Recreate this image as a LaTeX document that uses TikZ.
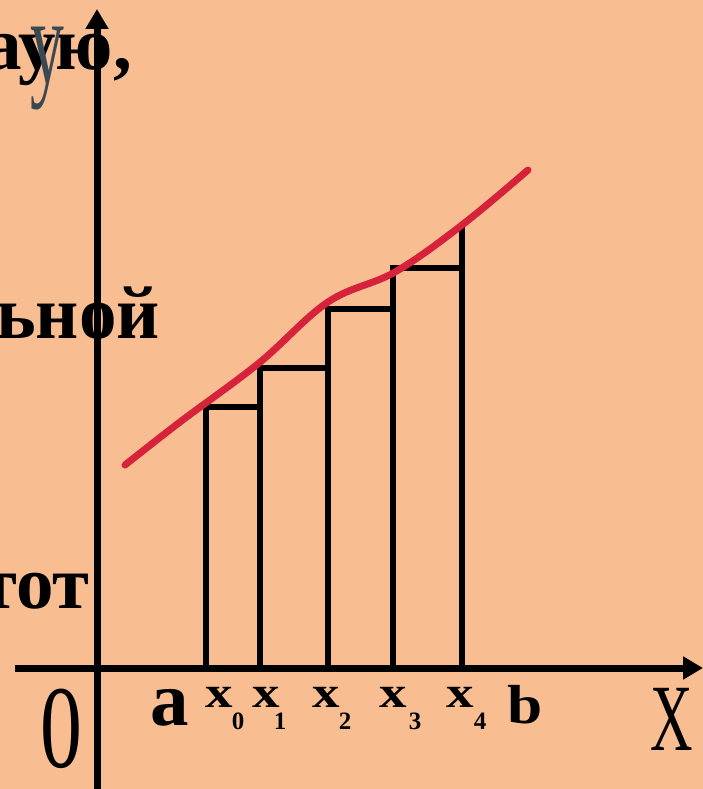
\documentclass[tikz,border=0pt]{standalone}
\usepackage{fontspec}
\setmainfont{Liberation Serif}
\usetikzlibrary{arrows.meta}
\definecolor{peach}{RGB}{248,190,146}
\definecolor{curvered}{RGB}{214,34,58}
\definecolor{ygrey}{RGB}{58,72,82}
\tikzset{
  axis/.style={line width=7pt,-{Triangle[length=20pt,width=22pt]}},
  bar/.style={line width=6.5pt,line join=miter},
  frag/.style={inner sep=0pt,font=\fontsize{75}{75}\selectfont\bfseries},
  xlab/.style={inner sep=0pt,font=\fontsize{44}{44}\selectfont\bfseries,xscale=1.25},
  sublab/.style={inner sep=0pt,font=\fontsize{25}{25}\selectfont\bfseries},
}
\begin{document}
\begin{tikzpicture}[x=1pt,y=-1pt]
\fill[peach] (0,0) rectangle (703,789);
\useasboundingbox (0,0) rectangle (703,789);
% text fragments on the left
\node[frag,anchor=base east] (f1) at (132,70) {аую,};
\node[frag,anchor=base east] (f2) at (160,338) {ьной};
\node[frag,anchor=base east] (f3) at (90,608) {тот};
\node[inner sep=0pt,anchor=base,text=ygrey,font=\fontsize{123}{123}\selectfont,xscale=0.55] (ylab) at (47,84) {y};
% bars
\coordinate (b0) at (206,668);
\coordinate (b1) at (260,668);
\coordinate (b2) at (328,668);
\coordinate (b3) at (393,668);
\coordinate (b4) at (462,668);
\draw[bar] (b0) |- (260,407) -- (b1);
\draw[bar] (b1) |- (328,368) -- (b2);
\draw[bar] (b2) |- (393,309) -- (b3);
\draw[bar] (b3) |- (462,268) -- (b4);
\coordinate (b4top) at (462,226);
\draw[bar] (462,268) -- (b4top);
% axes
\coordinate (xs) at (15,668);
\coordinate (xe) at (703,668);
\coordinate (ys) at (97,795);
\coordinate (ye) at (97,9);
\draw[axis] (xs) -- (xe);
\draw[axis] (ys) -- (ye);
% curve
\draw[curvered,line width=7pt,line cap=round] plot[smooth,tension=0.6] coordinates {(125,465) (180,422) (259,363) (328,302) (395,272) (462,225) (528,170)};
% labels
\node[inner sep=0pt,anchor=base,font=\fontsize{118}{118}\selectfont,xscale=0.71] (zero) at (61,767) {0};
\node[inner sep=0pt,anchor=base,font=\fontsize{77}{77}\selectfont\bfseries] (la) at (170,725) {a};
\node[inner sep=0pt,anchor=base,font=\fontsize{55}{55}\selectfont\bfseries,xscale=1.15] (lb) at (525,723) {b};
\node[inner sep=0pt,anchor=base,font=\fontsize{95}{95}\selectfont,xscale=0.62] (lX) at (672,750) {X};
\node[xlab,anchor=base] (x0) at (219,707) {x};
\node[xlab,anchor=base] (x1) at (266,707) {x};
\node[xlab,anchor=base] (x2) at (326,707) {x};
\node[xlab,anchor=base] (x3) at (393,707) {x};
\node[xlab,anchor=base] (x4) at (460,707) {x};
\node[sublab,anchor=base] (s0) at (238,729) {0};
\node[sublab,anchor=base] (s1) at (280,729) {1};
\node[sublab,anchor=base] (s2) at (345,729) {2};
\node[sublab,anchor=base] (s3) at (415,729) {3};
\node[sublab,anchor=base] (s4) at (480,729) {4};
\end{tikzpicture}
\end{document}
